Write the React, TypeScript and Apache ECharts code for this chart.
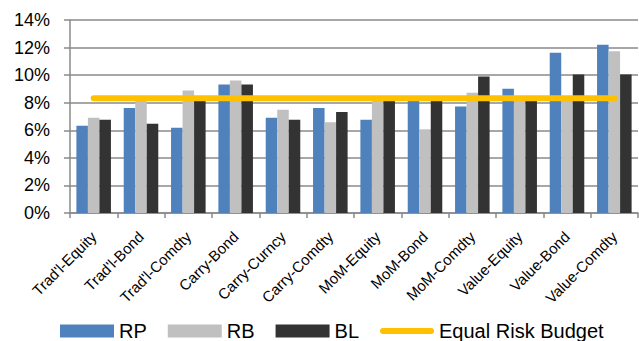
import React, { useEffect, useRef } from "react";
import * as echarts from "echarts";

const categories = [
  "Trad'l-Equity", "Trad'l-Bond", "Trad'l-Comdty", "Carry-Bond", "Carry-Curncy", "Carry-Comdty",
  "MoM-Equity", "MoM-Bond", "MoM-Comdty", "Value-Equity", "Value-Bond", "Value-Comdty",
];
const rpValues = [6.33, 7.61, 6.19, 9.33, 6.91, 7.61, 6.77, 8.2, 7.73, 9.01, 11.62, 12.2];
const rbValues = [6.91, 8.3, 8.89, 9.62, 7.49, 6.59, 8.2, 6.07, 8.72, 8.25, 8.4, 11.74];
const blValues = [6.77, 6.48, 8.15, 9.33, 6.77, 7.32, 8.2, 8.2, 9.9, 8.2, 10.05, 10.05];
const equalBudget = [8.33, 8.33, 8.33, 8.33, 8.33, 8.33, 8.33, 8.33, 8.33, 8.33, 8.33, 8.33];
const yTicks = { min: 0, max: 14, interval: 2 };

export default function App() {
  const ref = useRef<HTMLDivElement>(null);
  useEffect(() => {
    if (!ref.current) return;
    const chart = echarts.init(ref.current, null, { renderer: "svg" });
    const font = "'Liberation Sans', Arial, sans-serif";
    const lineIcon = "path://M0,0 M54,13 M3,3.5 L51,3.5 A3,3 0 0 1 51,9.5 L3,9.5 A3,3 0 0 1 3,3.5 Z";
    chart.setOption({
      animation: false,
      textStyle: { fontFamily: font },
      grid: { left: 70, right: 1, top: 20, bottom: 128, containLabel: false },
      legend: {
        left: 55,
        top: 316,
        itemWidth: 54,
        itemHeight: 13,
        itemGap: 21,
        textStyle: { fontSize: 20, color: "#000", fontFamily: font },
        data: [
          { name: "RP", icon: "rect" },
          { name: "RB", icon: "rect" },
          { name: "BL", icon: "rect" },
          { name: "Equal Risk Budget", icon: lineIcon, itemStyle: { color: "#FFC000" } },
        ],
      },
      xAxis: {
        type: "category",
        data: categories,
        axisLine: { lineStyle: { color: "#8a8a8a", width: 1.5 } },
        axisTick: { show: true, length: 5, lineStyle: { color: "#8a8a8a", width: 1.5 } },
        axisLabel: { rotate: 45, fontSize: 15, color: "#000", margin: 21, interval: 0 },
      },
      yAxis: {
        type: "value",
        min: yTicks.min,
        max: yTicks.max,
        interval: yTicks.interval,
        axisLine: { show: true, lineStyle: { color: "#8a8a8a", width: 1.5 } },
        axisTick: { show: true, length: 6, lineStyle: { color: "#8a8a8a", width: 1.5 } },
        axisLabel: { formatter: "{value}%", fontSize: 18, color: "#000", margin: 20 },
        splitLine: { lineStyle: { color: "#8a8a8a", width: 1.5 } },
      },
      series: [
        { name: "RP", type: "bar", data: rpValues, itemStyle: { color: "#4F81BD" }, barGap: "0%", barCategoryGap: "27%" },
        { name: "RB", type: "bar", data: rbValues, itemStyle: { color: "#C0C0C0" }, barGap: "0%", barCategoryGap: "27%" },
        { name: "BL", type: "bar", data: blValues, itemStyle: { color: "#333333" }, barGap: "0%", barCategoryGap: "27%" },
        {
          name: "Equal Risk Budget",
          type: "line",
          data: equalBudget,
          symbol: "none",
          z: 5,
          itemStyle: { color: "#FFC000" },
          lineStyle: { color: "#FFC000", width: 6, cap: "round" },
        },
      ],
    });
    return () => chart.dispose();
  }, []);
  return <div ref={ref} style={{ width: 639, height: 341, position: "absolute", left: 0, top: 0 }} />;
}
